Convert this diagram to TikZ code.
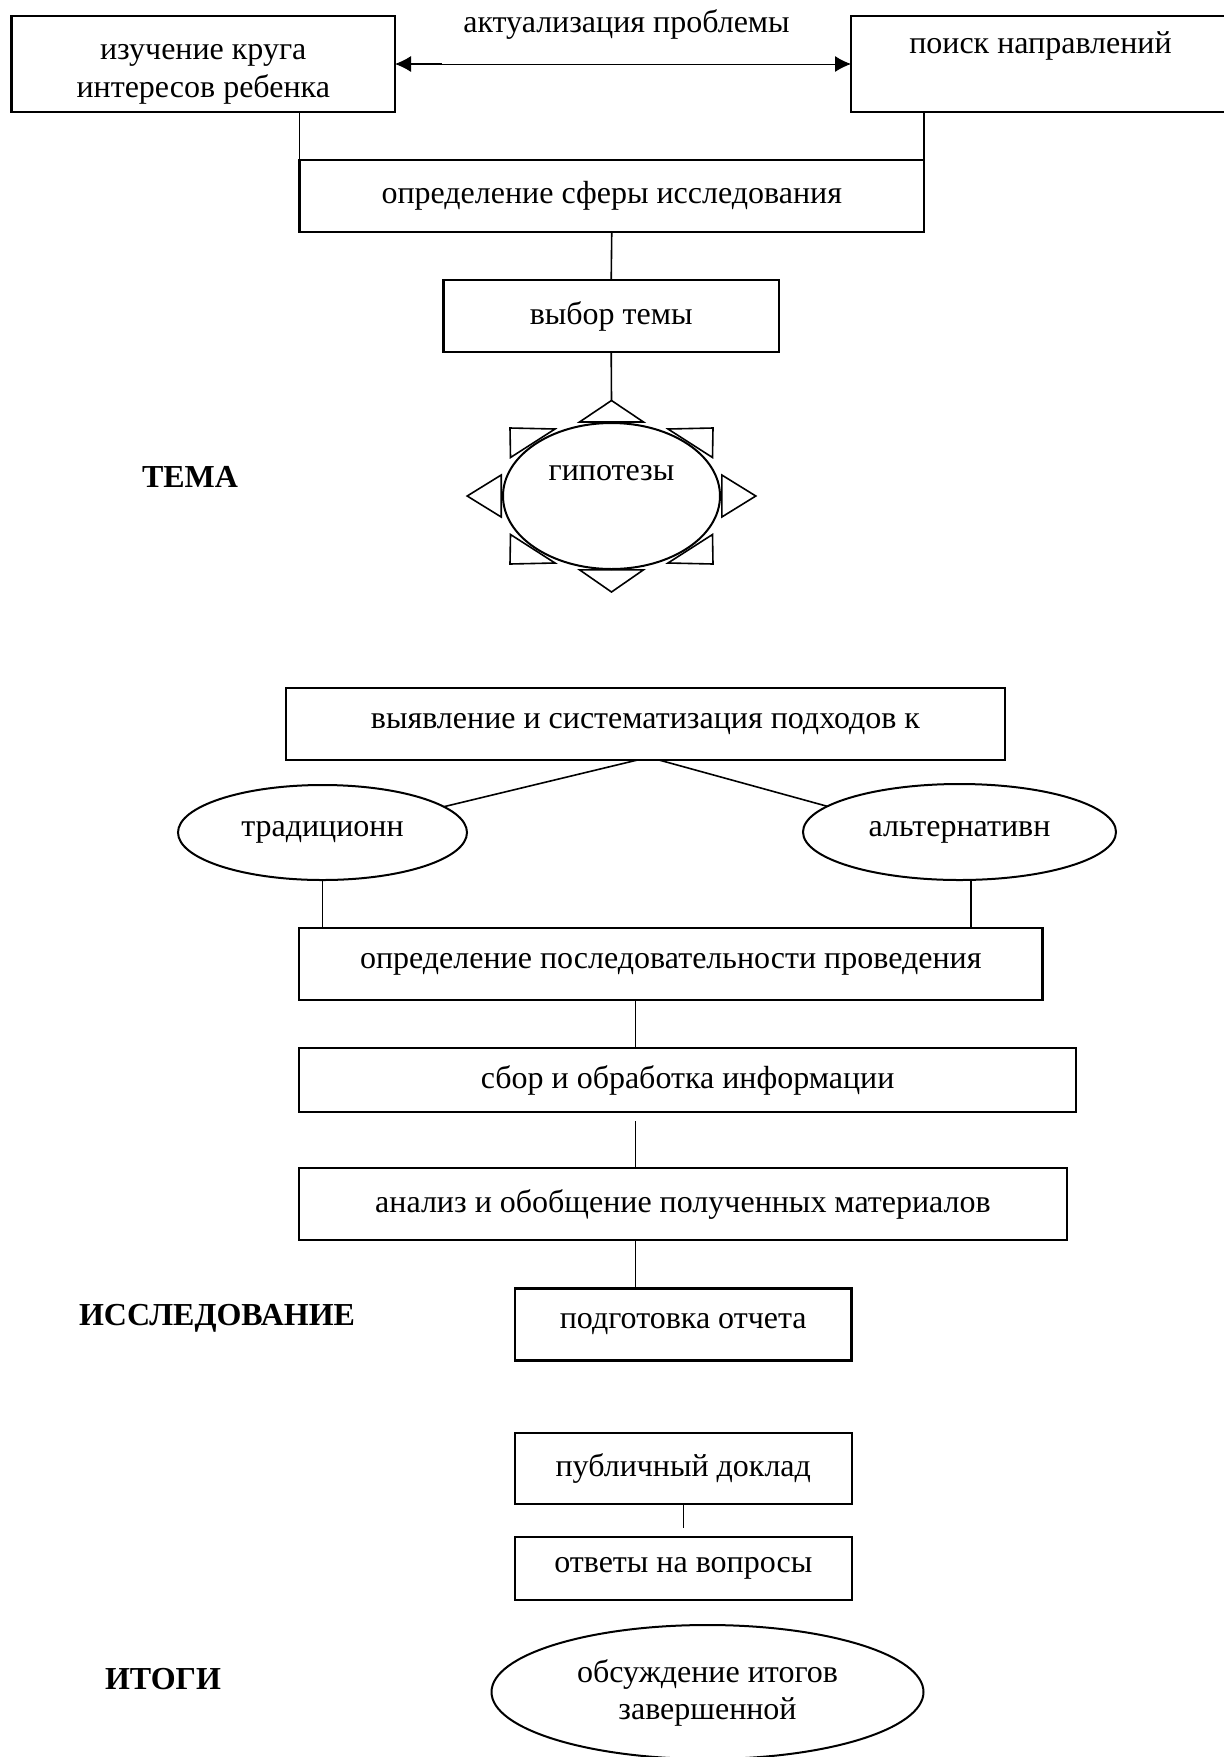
\documentclass[tikz,border=0pt]{standalone}
\usepackage{fontspec}
\setmainfont{Liberation Serif}
\usetikzlibrary{arrows.meta,shapes.geometric}
\tikzset{
stepbox/.style = {draw, line width = 2.2pt, inner sep = 0pt, outer sep = 0pt, align = center, font = \fontsize{32}{38}\selectfont},
ovalbox/.style = {draw, ellipse, line width = 2pt, inner sep = 0pt, outer sep = 0pt, align = center, font = \fontsize{32}{37}\selectfont},
stagelabel/.style = {font = \fontsize{32}{38}\selectfont\bfseries},
link/.style = {line width = 1.6pt},
ray/.style = {line width = 1.6pt, line join = miter}}

\begin{document}
\begin{tikzpicture}[x=1pt, y=-1pt]
\useasboundingbox (0,0) rectangle (1224,1757);
%
%----------------------------------------------------------------------------------
% top: problem and topic
%
\node[stepbox, minimum width=383.5pt, minimum height=96pt, text height=70pt, text depth=4pt] (interest) at (203.25,64) {изучение круга\\интересов ребенка};
\node[stepbox, minimum width=379pt, minimum height=96pt, text height=22pt, text depth=42.2pt] (search) at (1040.5,64) {поиск направлений};
\node[font=\fontsize{32}{38}\selectfont] (problem) at (626.5,24) {актуализация проблемы};
\draw[line width = 1pt, {Latex[length=16pt,width=16pt]}-{Latex[length=16pt,width=16pt]}] (interest.east) -- (search.west);
\draw[line width = 2.7pt] ([xshift=10pt]interest.east) -- ++(37,0);
%
\node[stepbox, minimum width=624.5pt, minimum height=72pt] (sphere) at (611.75,196) {определение сферы исследования};
\draw[link] (sphere.north west |- interest.south) -- (sphere.north west);
\draw[link] (sphere.north east |- search.south) -- (sphere.north east);
%
\node[stepbox, minimum width=335.6pt, minimum height=72pt] (topic) at (611.2,316) {выбор темы};
\draw[link] (sphere.south) -- (topic.north);
%
% hypotheses with rays
\node[ovalbox, minimum width=217pt, minimum height=146pt, text height=22pt, text depth=53.6pt] (hypothesis) at (611.5,496) {гипотезы};
\coordinate (sunTop) at (611.5,400.5);
\draw[link] (topic.south) -- (sunTop);
\begin{scope}[shift={(hypothesis.center)}]
\draw[ray] (0,-95.5) -- (32,-74) -- (-32,-74) -- cycle;
\draw[ray] (0,96) -- (32,73.8) -- (-32,73.8) -- cycle;
\draw[ray] (-144.3,0) -- (-110.3,-21) -- (-110.3,21) -- cycle;
\draw[ray] (144.3,0) -- (110.3,-21) -- (110.3,21) -- cycle;
\draw[ray] (-101.5,-68) -- (-56.5,-67) -- (-101,-38.5) -- cycle;
\draw[ray] (101.5,-68) -- (56.5,-67) -- (101,-38.5) -- cycle;
\draw[ray] (-101.5,68) -- (-56.5,67) -- (-101,38.5) -- cycle;
\draw[ray] (101.5,68) -- (56.5,67) -- (101,38.5) -- cycle;
\end{scope}
\node[stagelabel] (theme) at (190,477) {ТЕМА};
%----------------------------------------------------------------------------------
%
%----------------------------------------------------------------------------------
% middle: research
%
\node[stepbox, minimum width=719pt, minimum height=72pt] (approach) at (645.5,724) {выявление и систематизация подходов к};
\node[ovalbox, minimum width=289pt, minimum height=95pt] (trad) at (322.5,832.5) {традиционн};
\node[ovalbox, minimum width=313pt, minimum height=96pt] (alt) at (959.5,832) {альтернативн};
\draw[link] ([xshift=-8pt]approach.south) -- (trad.12);
\draw[link] ([xshift=13.5pt]approach.south) -- (alt.169);
%
\node[stepbox, minimum width=743.5pt, minimum height=72pt] (sequence) at (670.75,964) {определение последовательности проведения};
\draw[link] (trad.south) -- (trad.south |- sequence.north);
\draw[link] ([xshift=11.5pt]alt.south) -- ([xshift=11.5pt]alt.south |- sequence.north);
%
\node[stepbox, minimum width=776.7pt, minimum height=64pt] (collect) at (687.6,1080.3) {сбор и обработка информации};
\node[stepbox, minimum width=768pt, minimum height=72pt] (analysis) at (683,1204.2) {анализ и обобщение полученных материалов};
\node[stepbox, minimum width=336.5pt, minimum height=72pt] (report) at (683.25,1324.5) {подготовка отчета};
\coordinate (spine) at (635.5,0);
\coordinate (gapTop) at (635.5,1121);
\draw[link] (sequence.south -| spine) -- (collect.north -| spine);
\draw[link] (gapTop) -- (analysis.north -| gapTop);
\draw[link] (analysis.south -| spine) -- (report.north -| spine);
\node[stagelabel] (research) at (217,1318) {ИССЛЕДОВАНИЕ};
%----------------------------------------------------------------------------------
%
%----------------------------------------------------------------------------------
% bottom: results
%
\node[stepbox, minimum width=336.7pt, minimum height=71pt] (speech) at (683.3,1468.5) {публичный доклад};
\node[stepbox, minimum width=336.7pt, minimum height=63.3pt] (answers) at (683.3,1568.3) {ответы на вопросы};
\coordinate (gapLow) at (683.5,1528);
\draw[link] (speech.south -| gapLow) -- (gapLow);
\node[ovalbox, minimum width=432pt, minimum height=134pt, text height=61.6pt, text depth=7pt] (discussion) at (707.5,1692) {обсуждение итогов\\завершенной};
\node[stagelabel] (results) at (163,1679) {ИТОГИ};
%----------------------------------------------------------------------------------
%
\end{tikzpicture}
\end{document}
